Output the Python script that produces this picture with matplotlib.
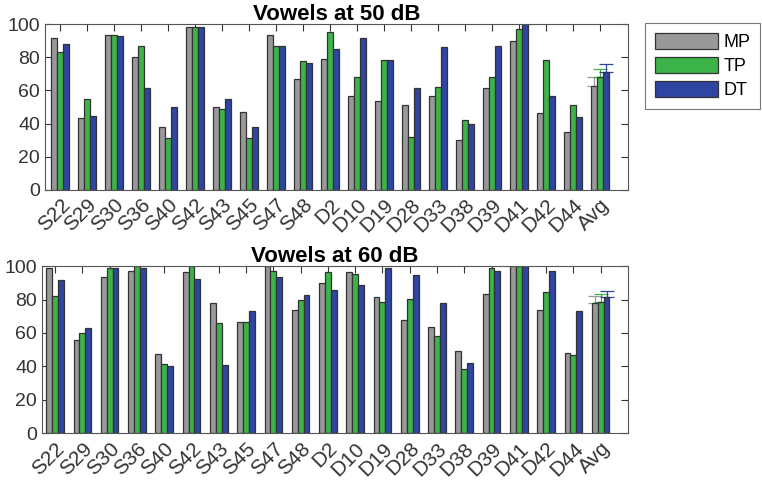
import numpy as np
import matplotlib
matplotlib.use('Agg')
import matplotlib.pyplot as plt

plt.rcParams['font.family'] = ['Liberation Sans', 'DejaVu Sans']

#Data
subjects = ['S22', 'S29', 'S30', 'S36', 'S40', 'S42', 'S43', 'S45', 'S47', 'S48', 'D2',
            'D10', 'D19', 'D28', 'D33', 'D38', 'D39', 'D41', 'D42', 'D44', 'Avg']

mp_50 = [91.4, 43.4, 93.4, 80, 38, 98.4, 50, 46.8, 93.4, 66.9, 78.9,
         56.6, 53.6, 51.4, 56.6, 30.1, 61.4, 90, 46.6, 34.9, 62.9]
tp_50 = [82.9, 55, 93.4, 87, 31.5, 98.4, 48.8, 31.1, 87, 77.9, 95,
         67.9, 78.3, 32.1, 62, 42.2, 68.3, 96.8, 78.3, 51.4, 67.9]
dt_50 = [88, 44.8, 93, 61.4, 50, 98.4, 55, 38, 87, 76.5, 84.7,
         91.4, 78.3, 61.4, 86.5, 40, 87, 102, 56.8, 44.2, 71.1]
err_50 = [5.0, 5.2, 4.6]

mp_60 = [98.6, 56, 93.6, 97.2, 47.6, 96.6, 78, 66.8, 100, 73.6, 90,
         96.6, 81.4, 68, 63.4, 49, 83.6, 100, 73.6, 47.8, 78]
tp_60 = [82, 60, 98.6, 100, 41.4, 100, 66.2, 66.8, 97.2, 80, 96.6,
         95, 78.6, 80.2, 58.4, 38.4, 98.6, 100, 84.8, 46.6, 78.6]
dt_60 = [91.6, 63.2, 98.6, 98.6, 40, 92.2, 41, 73.4, 93.2, 82.6, 85.8,
         88.6, 98.6, 94.8, 77.8, 42, 96.8, 100, 96.8, 73, 81.4]
err_60 = [4.0, 4.8, 4.0]

labels = ['MP', 'TP', 'DT']
colors = ['#999999', '#3cb44a', '#2e45a2']


def draw_panel(ax, series, errs, title, xlim):
    x = np.arange(1, len(subjects) + 1)
    w = 0.215
    for k, vals in enumerate(series):
        pos = x + (k - 1) * w
        ax.bar(pos, vals, w, color=colors[k], edgecolor='#333333',
               linewidth=0.9, label=labels[k], zorder=2)
        # one-sided error bar on the average group
        ax.errorbar(pos[-1], vals[-1], yerr=[[0], [errs[k]]], fmt='none',
                    ecolor=colors[k], elinewidth=0.9, capsize=5,
                    capthick=0.9, zorder=1)
    ax.set_xlim(*xlim)
    ax.set_ylim(0, 100)
    ax.set_yticks(range(0, 101, 20))
    ax.set_xticks(x)
    ax.set_xticklabels(subjects, rotation=45, ha='right',
                       rotation_mode='anchor')
    ax.tick_params(direction='in', top=True, right=True, length=5,
                   labelsize=14, colors='#333333', width=0.8)
    ax.tick_params(axis='x', labelsize=15, pad=4)
    for s in ax.spines.values():
        s.set_color('#555555')
        s.set_linewidth(0.8)
    ax.set_title(title, fontsize=16, fontweight='bold', pad=3)


fig = plt.figure(figsize=(7.62, 4.83), dpi=100)
ax1 = fig.add_axes([0.0591, 0.607, 0.7647, 0.343])
ax2 = fig.add_axes([0.0551, 0.103, 0.7686, 0.346])

draw_panel(ax1, [mp_50, tp_50, dt_50], err_50, 'Vowels at 50 dB', (0.44, 22.03))
draw_panel(ax2, [mp_60, tp_60, dt_60], err_60, 'Vowels at 60 dB', (0.52, 21.99))

leg = ax1.legend(loc='upper left', bbox_to_anchor=(0.846, 0.952),
                 bbox_transform=fig.transFigure, fontsize=13,
                 handlelength=3.5, handleheight=0.95, fancybox=False,
                 edgecolor='#555555', borderpad=0.55, labelspacing=0.33,
                 handletextpad=0.3, borderaxespad=0)
leg.get_frame().set_linewidth(0.8)

fig.savefig('out.png', dpi=100)
